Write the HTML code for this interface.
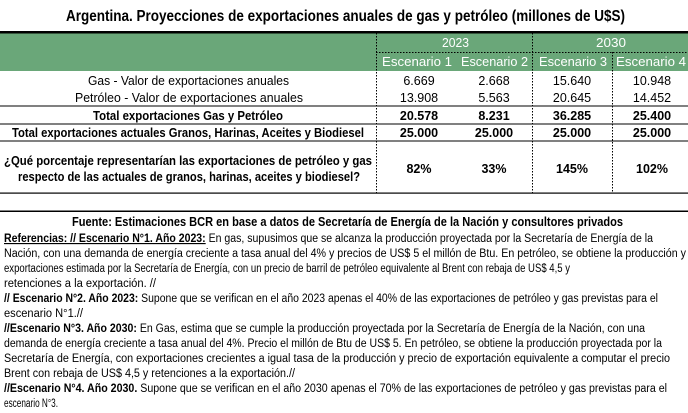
<!DOCTYPE html>
<html><head><meta charset="utf-8"><style>
html,body{margin:0;padding:0;background:#fff;}
svg{display:block;font-family:"Liberation Sans",sans-serif;}
</style></head><body>
<svg width="688" height="413" viewBox="0 0 688 413" xmlns="http://www.w3.org/2000/svg">
<text x="66" y="21" font-size="16" font-weight="bold" textLength="559" lengthAdjust="spacingAndGlyphs">Argentina. Proyecciones de exportaciones anuales de gas y petróleo (millones de U$S)</text>
<rect x="0" y="31" width="688" height="2.5" fill="#000"/>
<rect x="0" y="33.5" width="688" height="37.5" fill="#6aa779"/>
<g stroke="#000" stroke-width="1" stroke-dasharray="1.5,1.5">
<line x1="376.5" y1="33" x2="376.5" y2="193"/>
<line x1="532.5" y1="33" x2="532.5" y2="193"/>
<line x1="612.5" y1="52" x2="612.5" y2="193"/>
<line x1="376" y1="52.5" x2="688" y2="52.5"/>
</g>
<g fill="#000">
<rect x="0" y="105.5" width="688" height="1"/>
<rect x="0" y="123.5" width="688" height="1"/>
<rect x="0" y="140.5" width="688" height="1"/>
<rect x="0" y="192.5" width="688" height="1.2"/>
<rect x="0" y="210.5" width="688" height="1.5"/>
</g>
<g fill="#fff" font-size="13">
<text x="442" y="47" textLength="27" lengthAdjust="spacingAndGlyphs">2023</text>
<text x="596" y="47" textLength="30" lengthAdjust="spacingAndGlyphs">2030</text>
<text x="382" y="66" textLength="70" lengthAdjust="spacingAndGlyphs">Escenario 1</text>
<text x="461" y="66" textLength="67" lengthAdjust="spacingAndGlyphs">Escenario 2</text>
<text x="539" y="66" textLength="68" lengthAdjust="spacingAndGlyphs">Escenario 3</text>
<text x="616" y="66" textLength="70" lengthAdjust="spacingAndGlyphs">Escenario 4</text>
</g>
<g font-size="12.5" fill="#000">
<text x="88" y="85" textLength="201" lengthAdjust="spacingAndGlyphs">Gas - Valor de exportaciones anuales</text>
<text x="75" y="102" textLength="228" lengthAdjust="spacingAndGlyphs">Petróleo - Valor de exportaciones anuales</text>
<text x="93" y="120" font-weight="bold" textLength="190" lengthAdjust="spacingAndGlyphs">Total exportaciones Gas y Petróleo</text>
<text x="12" y="137" font-weight="bold" textLength="352" lengthAdjust="spacingAndGlyphs">Total exportaciones actuales Granos, Harinas, Aceites y Biodiesel</text>
<text x="4" y="165" font-weight="bold" textLength="368" lengthAdjust="spacingAndGlyphs">¿Qué porcentaje representarían las exportaciones de petróleo y gas</text>
<text x="18" y="181" font-weight="bold" textLength="342" lengthAdjust="spacingAndGlyphs">respecto de las actuales de granos, harinas, aceites y biodiesel?</text>
</g>
<g font-size="12.5" fill="#000" text-anchor="middle">
<text x="419" y="85">6.669</text><text x="494" y="85">2.668</text><text x="572" y="85">15.640</text><text x="652" y="85">10.948</text>
<text x="419" y="102">13.908</text><text x="494" y="102">5.563</text><text x="572" y="102">20.645</text><text x="652" y="102">14.452</text>
<g font-weight="bold">
<text x="419" y="120">20.578</text><text x="494" y="120">8.231</text><text x="572" y="120">36.285</text><text x="652" y="120">25.400</text>
<text x="419" y="137">25.000</text><text x="494" y="137">25.000</text><text x="572" y="137">25.000</text><text x="652" y="137">25.000</text>
<text x="419" y="173">82%</text><text x="494" y="173">33%</text><text x="572" y="173">145%</text><text x="652" y="173">102%</text>
</g>
</g>
<text x="72" y="226" font-size="12.5" font-weight="bold" textLength="551" lengthAdjust="spacingAndGlyphs">Fuente: Estimaciones BCR en base a datos de Secretaría de Energía de la Nación y consultores privados</text>
<g font-size="11.5" fill="#000">
<text x="4" y="242" textLength="649" lengthAdjust="spacingAndGlyphs"><tspan font-weight="bold" text-decoration="underline">Referencias:  // Escenario N°1. Año 2023:</tspan> En gas, supusimos que se alcanza la producción proyectada por la Secretaría de Energía de la</text>
<text x="4" y="257" textLength="682" lengthAdjust="spacingAndGlyphs">Nación, con una demanda de energía creciente a tasa anual del 4% y precios de US$ 5 el millón de Btu. En petróleo, se obtiene la producción y</text>
<text x="4" y="272" textLength="566" lengthAdjust="spacingAndGlyphs">exportaciones estimada por la Secretaría de Energía, con un precio de barril de petróleo equivalente al Brent con rebaja de US$ 4,5 y</text>
<text x="4" y="287" textLength="152" lengthAdjust="spacingAndGlyphs">retenciones a la exportación. //</text>
<text x="4" y="302" textLength="654" lengthAdjust="spacingAndGlyphs"><tspan font-weight="bold">// Escenario N°2. Año 2023:</tspan> Supone que se verifican en el año 2023 apenas el 40% de las exportaciones de petróleo y gas previstas para el</text>
<text x="4" y="317" textLength="79" lengthAdjust="spacingAndGlyphs">escenario N°1.//</text>
<text x="4" y="332" textLength="641" lengthAdjust="spacingAndGlyphs"><tspan font-weight="bold">//Escenario N°3. Año 2030:</tspan> En Gas, estima que se cumple la producción proyectada por la Secretaría de Energía de la Nación, con una</text>
<text x="4" y="347" textLength="658" lengthAdjust="spacingAndGlyphs">demanda de energía creciente a tasa anual del 4%. Precio el millón de Btu de US$ 5. En petróleo, se obtiene la producción proyectada por la</text>
<text x="4" y="362" textLength="666" lengthAdjust="spacingAndGlyphs">Secretaría de Energía, con exportaciones crecientes a igual tasa de la producción y precio de exportación equivalente a computar el precio</text>
<text x="4" y="377" textLength="291" lengthAdjust="spacingAndGlyphs">Brent con rebaja de US$ 4,5 y retenciones a la exportación.//</text>
<text x="4" y="392" textLength="663" lengthAdjust="spacingAndGlyphs"><tspan font-weight="bold">//Escenario N°4. Año 2030.</tspan> Supone que se verifican en el año 2030 apenas el 70% de las exportaciones de petróleo y gas previstas para el</text>
<text x="4" y="407" textLength="54" lengthAdjust="spacingAndGlyphs">escenario N°3.</text>
</g>
</svg>
</body></html>
